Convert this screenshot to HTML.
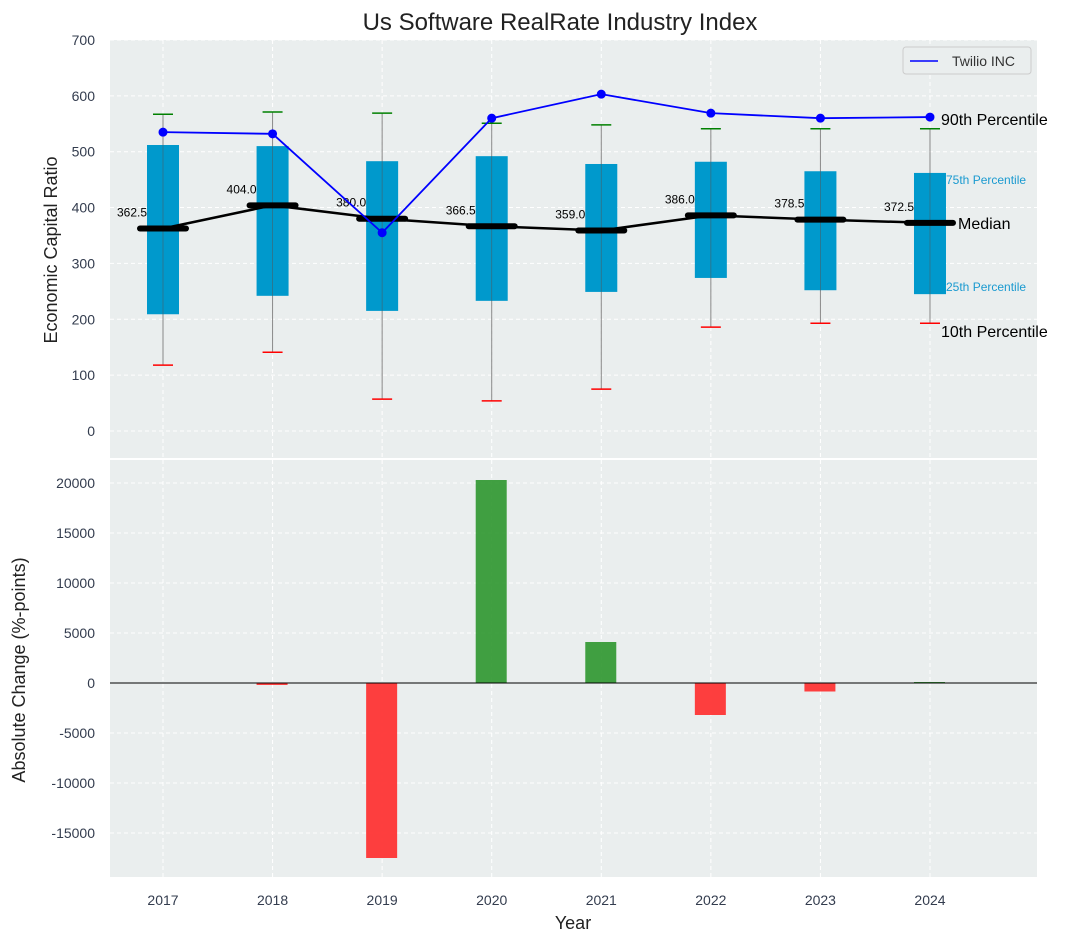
<!DOCTYPE html>
<html><head><meta charset="utf-8"><style>body{margin:0;background:#fff}svg{display:block;font-family:"Liberation Sans","DejaVu Sans",sans-serif}</style></head>
<body>
<svg id="c" width="1076" height="942"></svg>
<script>
const years=[2017,2018,2019,2020,2021,2022,2023,2024];
const p10=[118,141,57,54,75,186,193,193];
const p25=[209,242,215,233,249,274,252,245];
const medians=[362.5,404.0,380.0,366.5,359.0,386.0,378.5,372.5];
const p75=[512,510,483,492,478,482,465,462];
const p90=[567,571,569,551,548,541,541,541];
const twilio=[535,532,355,560,603,569,560,562];
const changes=[0,-200,-17500,20300,4100,-3200,-850,100];
const topTicks=[0,100,200,300,400,500,600,700];
const botTicks=[-15000,-10000,-5000,0,5000,10000,15000,20000];
const NS="http://www.w3.org/2000/svg";
const svg=document.getElementById('c');
function el(t,a,txt){const e=document.createElementNS(NS,t);for(const k in a)e.setAttribute(k,a[k]);if(txt!==undefined)e.textContent=txt;svg.appendChild(e);return e;}
const X=y=>163+(y-2017)*109.57;
const Y1=v=>431-v*0.5586;
const Y2=v=>683-v*0.01;
let p=el('rect',{x:110,y:40,width:927,height:418,fill:'#eaeeee'});

p=el('rect',{x:110,y:460,width:927,height:417,fill:'#eaeeee'});

years.forEach(y=>{el('line',{x1:X(y),x2:X(y),y1:40,y2:458,stroke:'#fff','stroke-dasharray':'4,3'});el('line',{x1:X(y),x2:X(y),y1:460,y2:877,stroke:'#fff','stroke-dasharray':'4,3'});});
topTicks.forEach(t=>{el('line',{x1:110,x2:1037,y1:Y1(t),y2:Y1(t),stroke:'#fff','stroke-dasharray':'4,3'});
 const l=el('text',{x:95,y:Y1(t)+5,'text-anchor':'end','font-size':14,fill:'#333c4e'},t);
 });
botTicks.forEach(t=>{el('line',{x1:110,x2:1037,y1:Y2(t),y2:Y2(t),stroke:'#fff','stroke-dasharray':'4,3'});
 const l=el('text',{x:95,y:Y2(t)+5,'text-anchor':'end','font-size':14,fill:'#333c4e'},t);
 });
years.forEach((y,i)=>{const x=X(y);
 const w=el('line',{x1:x,x2:x,y1:Y1(p10[i]),y2:Y1(p90[i]),stroke:'#888','stroke-width':1});
 
 const b=el('rect',{x:x-16,y:Y1(p75[i]),width:32,height:Y1(p25[i])-Y1(p75[i]),fill:'#0099cc'});
 
 el('line',{x1:x,x2:x,y1:Y1(p25[i]),y2:Y1(p75[i]),stroke:'#555','stroke-width':0.8,opacity:0.6});
 const c1=el('line',{x1:x-10,x2:x+10,y1:Y1(p90[i]),y2:Y1(p90[i]),stroke:'green','stroke-width':1.5});
 
 const c2=el('line',{x1:x-10,x2:x+10,y1:Y1(p10[i]),y2:Y1(p10[i]),stroke:'red','stroke-width':1.5});
 
});
const ml=el('polyline',{points:years.map((y,i)=>X(y)+','+Y1(medians[i])).join(' '),fill:'none',stroke:'#000','stroke-width':2.5});

years.forEach((y,i)=>{const x=X(y);
 const m=el('line',{x1:x-23,x2:x+23,y1:Y1(medians[i]),y2:Y1(medians[i]),stroke:'#000','stroke-width':6,'stroke-linecap':'round'});
 
 const t=el('text',{x:x-31,y:Y1(medians[i])-12,'text-anchor':'middle','font-size':12,fill:'#000'},medians[i].toFixed(1));
 });
const tl=el('polyline',{points:years.map((y,i)=>X(y)+','+Y1(twilio[i])).join(' '),fill:'none',stroke:'blue','stroke-width':1.8});

years.forEach((y,i)=>{const d=el('circle',{cx:X(y),cy:Y1(twilio[i]),r:4.5,fill:'blue'});
 });
const last=years.length-1;
[[941,Y1(p90[last])-4,'90th Percentile',16,'#000'],[946,Y1(p75[last])+11,'75th Percentile',12,'#1a9ad0'],[958,Y1(medians[last])+6,'Median',16,'#000'],[946,Y1(p25[last])-3,'25th Percentile',12,'#1a9ad0'],[941,Y1(p10[last])+14,'10th Percentile',16,'#000']].forEach(a=>{
 const t=el('text',{x:a[0],y:a[1],'font-size':a[3],fill:a[4]},a[2]);
 });
const lg=el('rect',{x:903,y:47,width:128,height:27,fill:'#eaeeee',stroke:'#ccc',rx:3});

el('line',{x1:910,x2:938,y1:61,y2:61,stroke:'blue','stroke-width':1.6});
const lt=el('text',{x:952,y:66,'font-size':14,fill:'#333'},'Twilio INC');

years.forEach((y,i)=>{const v=changes[i];const x=X(y);
 const b=el('rect',{x:x-16,y:Math.min(Y2(v),Y2(0)),width:31,height:Math.abs(Y2(v)-Y2(0)),fill:v>=0?'#2e962e':'#ff2a2a',opacity:0.9});
 });
el('line',{x1:110,x2:1037,y1:Y2(0),y2:Y2(0),stroke:'#000','stroke-width':1});
years.forEach(y=>{const t=el('text',{x:X(y),y:905,'text-anchor':'middle','font-size':14,fill:'#333c4e'},y);
 });
let t=el('text',{x:560,y:30,'text-anchor':'middle','font-size':24,fill:'#222'},'Us Software RealRate Industry Index');

t=el('text',{x:573,y:929,'text-anchor':'middle','font-size':18,fill:'#222'},'Year');

t=el('text',{x:57,y:250,'text-anchor':'middle','font-size':18,fill:'#222',transform:'rotate(-90 57 250)'},'Economic Capital Ratio');

t=el('text',{x:25,y:670,'text-anchor':'middle','font-size':18,fill:'#222',transform:'rotate(-90 25 670)'},'Absolute Change (%-points)');

</script>
</body></html>
